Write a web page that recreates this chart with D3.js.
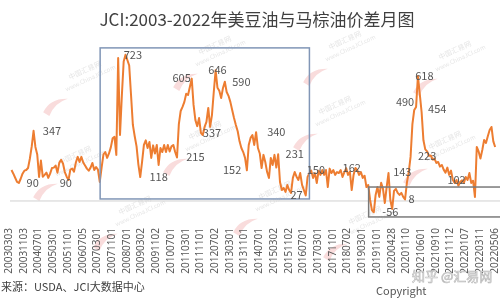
<!DOCTYPE html>
<html>
<head>
<meta charset="utf-8">
<script src="https://cdn.jsdelivr.net/npm/d3@7"></script>
<style>
  body { margin: 0; background: #fff; }
  svg { display: block; font-family: "Noto Sans CJK SC", "Noto Sans", sans-serif; }
</style>
</head>
<body>
<div id="chart"></div>
<script>
// price spread, one value per period (2003-03 .. 2022-05+)
const spread = [
  153, 135, 115, 94, 89, 110, 135, 150, 153, 163,
  210, 270, 347, 267, 230, 119, 200, 120, 129, 140,
  114, 135, 163, 165, 175, 140, 190, 203, 185, 143,
  120, 104, 155, 160, 145, 190, 218, 193, 218, 190,
  175, 160, 150, 165, 188, 153, 168, 155, 94, 165,
  230, 242, 213, 235, 265, 310, 317, 228, 707, 326,
  520, 690, 723, 697, 670, 524, 376, 320, 270, 180,
  118, 193, 277, 300, 262, 292, 213, 275, 235, 277,
  178, 262, 242, 277, 242, 277, 245, 270, 277, 242,
  215, 380, 445, 465, 490, 530, 524, 565, 605, 475,
  400, 370, 410, 337, 326, 366, 391, 460, 366, 425,
  540, 646, 560, 545, 509, 559, 590, 539, 520, 490,
  450, 410, 376, 345, 295, 262, 242, 213, 152, 277,
  312, 326, 277, 340, 262, 235, 163, 228, 193, 143,
  114, 213, 178, 228, 165, 231, 94, 54, 64, 45,
  79, 54, 40, 114, 143, 120, 104, 138, 80, 54,
  27, 119, 138, 150, 114, 138, 89, 150, 129, 153,
  129, 153, 69, 160, 138, 153, 129, 143, 138, 153,
  119, 143, 162, 129, 145, 54, 129, 163, 153, 129,
  143, 114, 125, 69, 79, 5, -45, -56, 30, 69,
  20, 90, 60, -10, 69, 138, 5, -40, 50, 60,
  40, 30, 40, 20, 8, 90, 143, 218, 380, 450,
  465, 618, 530, 440, 300, 255, 245, 223, 225, 205,
  210, 188, 193, 170, 178, 155, 140, 165, 129, 150,
  104, 89, 104, 75, 95, 102, 89, 119, 104, 138,
  89, 100, 20, 267, 245, 210, 252, 302, 287, 320,
  351, 366, 295, 267
];

// x-axis labels, one every 8 periods
const tickLabels = [
  '20030303', '20031103', '20040701', '20050301', '20051101', '20060705',
  '20070301', '20071101', '20080701', '20090302', '20091102', '20100701',
  '20110301', '20111101', '20120702', '20130301', '20131101', '20140701',
  '20150302', '20151102', '20160701', '20170301', '20171101', '20180702',
  '20190301', '20191101', '20200428', '20201110', '20210601', '20210910',
  '20211112', '20220107', '20220311', '20220506'
];

// annotations: value shown and the period index where the label sits
const noteVal = [347, 90, 90, 723, 118, 605, 215, 646, 590, 337, 152, 340, 231, 27, 150, 162, -56, 143, 8, 490, 618, 454, 223, 102];
const noteIdx = [22, 11.5, 29.5, 66, 80, 92.5, 100, 112, 125, 109, 120, 144, 154, 155, 165.5, 185, 206, 212.5, 217.5, 214, 224.5, 231.5, 226, 242];

// highlighted periods: [start index, end index, top value, bottom value]
const boxBlue = [48.2, 162, 757, 10];
const boxGray = [194.2, 280, 69, -79];

const w = 500;
const h = 300;

const svg = d3.select('#chart')
              .append('svg')
              .attr('width', w)
              .attr('height', h);

const xScale = d3.scaleLinear()
                 .domain([0, 264])
                 .range([11.5, 497]);
const yScale = d3.scaleLinear()
                 .domain([-100, 800])
                 .range([221.2, 39.2]);

// faint watermarks
const wm = svg.append('g').attr('opacity', 0.2);
[[70, 80], [200, 55], [330, 50], [440, 60], [60, 165], [190, 140], [320, 115], [430, 150], [120, 215], [260, 200], [350, 225]]
  .forEach(p => {
    const g = wm.append('g').attr('transform', 'translate(' + p[0] + ',' + p[1] + ') rotate(-25)');
    g.append('text').text('中国汇易网').attr('font-size', 7).attr('fill', '#777').attr('x', 0);
    g.append('text').text('www.ChinaJCI.com').attr('font-size', 6).attr('fill', '#777').attr('x', -8).attr('y', 9);
    g.append('path')
     .attr('d', 'M-38,18 q12,-10 28,-2 q-14,-2 -24,8 z')
     .attr('fill', '#e05050');
  });

// zero line
svg.append('line')
   .attr('x1', 10).attr('x2', w)
   .attr('y1', yScale(0)).attr('y2', yScale(0))
   .attr('stroke', '#d0d0d0')
   .attr('stroke-width', 1);

svg.append('text')
   .text('JCI:2003-2022年美豆油与马棕油价差月图')
   .attr('x', 257)
   .attr('y', 26)
   .attr('text-anchor', 'middle')
   .attr('font-size', 17)
   .attr('fill', '#404040');

const line = d3.line()
               .x((d, i) => xScale(i))
               .y(d => yScale(d));

svg.append('path')
   .datum(spread)
   .attr('d', line)
   .attr('fill', 'none')
   .attr('stroke', '#ED7D31')
   .attr('stroke-width', 2)
   .attr('stroke-linejoin', 'round');

svg.append('rect')
   .attr('x', xScale(boxBlue[0]))
   .attr('y', yScale(boxBlue[2]))
   .attr('width', xScale(boxBlue[1]) - xScale(boxBlue[0]))
   .attr('height', yScale(boxBlue[3]) - yScale(boxBlue[2]))
   .attr('fill', 'none')
   .attr('stroke', '#8196b6')
   .attr('stroke-width', 1.5);

svg.append('rect')
   .attr('x', xScale(boxGray[0]))
   .attr('y', yScale(boxGray[2]))
   .attr('width', xScale(boxGray[1]) - xScale(boxGray[0]))
   .attr('height', yScale(boxGray[3]) - yScale(boxGray[2]))
   .attr('fill', 'none')
   .attr('stroke', '#7a7a7a')
   .attr('stroke-width', 1.5);

svg.selectAll('.note')
   .data(noteVal)
   .enter()
   .append('text')
   .attr('class', 'note')
   .text(d => d)
   .attr('x', (d, i) => xScale(noteIdx[i]))
   .attr('y', d => yScale(d))
   .attr('dy', '0.35em')
   .attr('text-anchor', 'middle')
   .attr('font-size', 11)
   .attr('fill', '#555');

const xAxis = d3.axisBottom(xScale)
                .tickValues(tickLabels.map((t, i) => i * 8))
                .tickFormat((d, i) => tickLabels[i])
                .tickSize(0);

svg.append('g')
   .attr('transform', 'translate(0, 228)')
   .call(xAxis)
   .call(g => g.select('.domain').remove())
   .selectAll('text')
   .attr('transform', 'rotate(-90)')
   .attr('x', 0)
   .attr('y', 0)
   .attr('dy', 0)
   .attr('text-anchor', 'end')
   .attr('font-size', 10)
   .attr('font-family', '"Noto Sans", sans-serif')
   .attr('fill', '#595959');

svg.append('text')
   .text('来源：USDA、JCI大数据中心')
   .attr('x', 1)
   .attr('y', 291)
   .attr('font-size', 11)
   .attr('fill', '#404040');

svg.append('text')
   .text('知乎 @汇易网')
   .attr('x', 412)
   .attr('y', 281)
   .attr('font-size', 13)
   .attr('fill', '#fff')
   .attr('stroke', '#bbb')
   .attr('stroke-width', 0.7);

svg.append('text')
   .text('Copyright')
   .attr('x', 376)
   .attr('y', 295)
   .attr('font-size', 11)
   .attr('fill', '#555');
</script>
</body>
</html>
